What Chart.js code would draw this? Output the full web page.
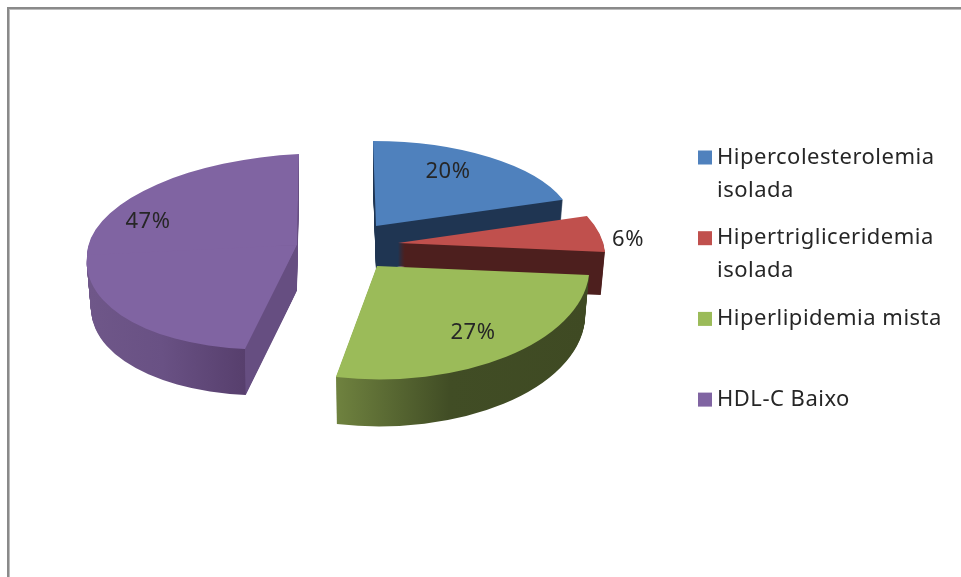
<!DOCTYPE html>
<html lang="pt">
<head>
<meta charset="utf-8">
<title>Dislipidemias</title>
<style>
  html, body { margin: 0; padding: 0; background: #fff; }
  #wrap { width: 961px; height: 577px; position: relative; }
</style>
<script src="https://cdn.jsdelivr.net/npm/chart.js@4/dist/chart.umd.js"></script>
</head>
<body>
<div id="wrap"><canvas id="pie" width="961" height="577"></canvas></div>
<script>
// Chart data
const categories = [
  ["Hipercolesterolemia", "isolada"],
  ["Hipertrigliceridemia", "isolada"],
  ["Hiperlipidemia mista"],
  ["HDL-C Baixo"]
];
const shares = [20, 6, 27, 47];
const faceColors = ["#4f81bd", "#c0504d", "#9bbb59", "#8064a2"];

// Exploded 3D look: each slice is drawn through a planar projection.
// origin = tip of the slice, across/along = images of the unit radius at 90 and 0 degrees.
// Rim colours are given as stops along the "across" direction (-1 to 1).
const projections = [
  { depth: 44, pieces: [{ origin: [376, 226], across: [197.6, 0], along: [3, 85] }],
    rim: [[-1, "#1f3552"], [1, "#1f3552"]], label: [448, 172] },
  { depth: 43, pieces: [{ origin: [398, 243], across: [206, 2.9], along: [22.5, 96.4] }],
    rim: [[-1, "#4d1f1e"], [1, "#4d1f1e"]], label: [628, 240] },
  { depth: 47, pieces: [{ origin: [377, 266], across: [212.5, 1.9], along: [-1.3, 113.4] }],
    rim: [[-1, "#6f823f"], [-0.187, "#6f823f"], [0.35, "#414d25"], [1, "#3f4a23"]], label: [473, 333] },
  { depth: 46, pieces: [
      { origin: [297, 245], across: [210, -10], along: [-12.9, 104], from: 190, to: 274 },
      { origin: [297, 245], across: [210, -10], along: [-2, 91], from: 270, to: 360 }
    ],
    rim: [[-1, "#6f5789"], [-0.6, "#695184"], [-0.19, "#573f6d"], [-0.187, "#664e81"], [1, "#664e81"]],
    label: [148, 222] }
];
const paintOrder = [3, 0, 1, 2];
const wallTaper = 0.02;

const textFont = "'Noto Sans', 'Open Sans', sans-serif";
const textColor = "#262626";
const textSize = 22;
const textTracking = "0.5px";
const legendLayout = { boxX: 698, boxSize: 14, textX: 717, firstCenter: 157.5, rowPitch: 80.7, lineHeight: 33 };

function enterPiece(ctx, el, piece, drop, taper) {
  const R = el.outerRadius;
  ctx.translate(piece.origin[0], piece.origin[1] + drop);
  ctx.transform(piece.across[0] * taper / R, piece.across[1] * taper / R,
                piece.along[0] / R, piece.along[1] / R, 0, 0);
  ctx.translate(-el.x, -el.y);
  if (piece.from !== undefined) {
    const wedge = [piece.from, (piece.from + piece.to) / 2, piece.to].map(d => d * Math.PI / 180);
    ctx.beginPath();
    ctx.moveTo(el.x, el.y);
    wedge.forEach(a => ctx.lineTo(el.x + 2 * R * Math.sin(a), el.y - 2 * R * Math.cos(a)));
    ctx.closePath();
    ctx.clip();
  }
}

function paintElement(ctx, el, piece, fill, drop, taper) {
  const resolved = el.options;
  el.options = Object.assign({}, resolved, { backgroundColor: fill, borderWidth: 0 });
  ctx.save();
  enterPiece(ctx, el, piece, drop, taper);
  el.draw(ctx);
  ctx.restore();
  el.options = resolved;
}

function setText(ctx, align) {
  ctx.font = textSize + "px " + textFont;
  ctx.letterSpacing = textTracking;
  ctx.textAlign = align;
  ctx.textBaseline = "middle";
}

const frame = {
  id: "frame",
  beforeDraw(chart) {
    const { ctx, width, height } = chart;
    ctx.save();
    ctx.fillStyle = "#ffffff";
    ctx.fillRect(0, 0, width, height);
    ctx.fillStyle = "#bcbcbc";
    ctx.fillRect(7, 9, width - 7, 1);
    ctx.fillRect(9, 7, 1, height - 7);
    ctx.fillStyle = "#8a8a8a";
    ctx.fillRect(7, 7, width - 7, 2);
    ctx.fillRect(7, 7, 2, height - 7);
    ctx.restore();
  }
};

const extrudedPie = {
  id: "extrudedPie",
  beforeDatasetsDraw(chart) {
    const ctx = chart.ctx;
    const arcs = chart.getDatasetMeta(0).data;
    paintOrder.forEach(i => {
      const el = arcs[i];
      const spec = projections[i];
      const R = el.outerRadius;
      const rim = ctx.createLinearGradient(el.x - R, el.y, el.x + R, el.y);
      spec.rim.forEach(([u, c]) => rim.addColorStop((u + 1) / 2, c));
      spec.pieces.forEach(piece => {
        for (let d = spec.depth; d >= 1; d--) {
          paintElement(ctx, el, piece, rim, d, 1 - wallTaper * d / spec.depth);
        }
      });
      spec.pieces.forEach(piece => paintElement(ctx, el, piece, faceColors[i], 0, 1));
    });
    return false;
  },
  afterDraw(chart) {
    const ctx = chart.ctx;
    ctx.save();
    ctx.fillStyle = textColor;
    setText(ctx, "center");
    projections.forEach((spec, i) => {
      ctx.fillText(shares[i] + "%", spec.label[0], spec.label[1]);
    });
    ctx.restore();
  }
};

// Legend rows come from the library's label generator, laid out with a narrow box-to-text gap.
const compactLegend = {
  id: "compactLegend",
  afterDraw(chart) {
    const ctx = chart.ctx;
    const L = legendLayout;
    const items = Chart.overrides.pie.plugins.legend.labels.generateLabels(chart);
    ctx.save();
    setText(ctx, "left");
    items.forEach((item, row) => {
      const y = L.firstCenter + row * L.rowPitch;
      ctx.fillStyle = item.fillStyle;
      ctx.fillRect(L.boxX, y - L.boxSize / 2, L.boxSize, L.boxSize);
      ctx.fillStyle = textColor;
      [].concat(item.text).forEach((line, n) => ctx.fillText(line, L.textX, y + n * L.lineHeight));
    });
    ctx.restore();
  }
};

new Chart(document.getElementById("pie"), {
  type: "pie",
  data: {
    labels: categories,
    datasets: [{ data: shares, backgroundColor: faceColors, borderWidth: 0 }]
  },
  options: {
    responsive: false,
    animation: false,
    events: [],
    plugins: { legend: { display: false }, tooltip: { enabled: false } }
  },
  plugins: [frame, extrudedPie, compactLegend]
});
</script>
</body>
</html>
